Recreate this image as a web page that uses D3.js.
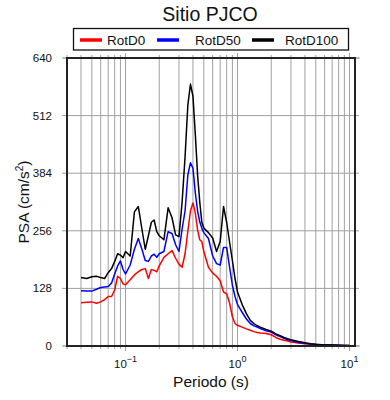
<!DOCTYPE html>
<html><head><meta charset="utf-8">
<script src="https://cdn.jsdelivr.net/npm/d3@7"></script>
<style>body{margin:0;background:#fff}svg{display:block}text{font-family:"Liberation Sans",Arial,Helvetica,sans-serif}</style>
</head><body><svg id="c" width="390" height="400"></svg>
<script>
const periods = [0.04,0.045,0.05,0.055,0.06,0.065,0.07,0.075,0.08,0.085,0.09,0.095,0.1,0.11,0.12,0.13,0.14,0.15,0.16,0.17,0.18,0.19,0.2,0.22,0.24,0.26,0.28,0.3,0.32,0.34,0.36,0.38,0.4,0.42,0.44,0.46,0.48,0.5,0.55,0.6,0.65,0.7,0.75,0.8,0.85,0.9,0.95,1.0,1.1,1.2,1.3,1.4,1.5,1.6,1.8,2.0,2.2,2.4,2.6,2.8,3.0,3.5,4.0,4.5,5,6,7,8,9,10];
const rotD100 = [152,150,154,155,152,150,163,172,188,205,202,196,210,200,298,310,260,215,245,275,280,254,245,236,307,285,247,243,320,420,535,582,555,470,380,320,275,262,252,240,210,232,310,275,230,190,150,120,92,72,57,50,45,42,37,33,27,23,19,16,14,10,7,5,4,2.5,2,1.5,1.2,1];
const rotD50 = [123,122,122,126,130,131,132,140,160,178,189,170,160,180,215,239,215,190,188,200,204,197,205,210,254,250,225,210,260,300,380,407,395,340,300,276,262,252,239,200,183,180,219,219,175,135,110,92,75,60,50,45,42,39,34,31,25,21,17,14,12,8,6,4.5,3.5,2.5,2,1.5,1.2,1];
const rotD0 = [96,97,98,95,98,103,110,110,125,155,150,138,136,147,158,165,170,172,150,170,168,165,178,197,205,212,195,182,175,205,255,300,318,295,258,236,232,210,175,162,155,145,120,116,95,65,50,46,42,38,35,32,30,29,28,25,19,15,13,11,9,6.5,5,4,3,2,1.5,1.2,1,0.8];
const yTicks = [0,128,256,384,512,640];
const xMajor = [0.1,1,10];
const seriesNames = ["RotD0","RotD50","RotD100"];
const seriesColors = ["#ff0000","#0000ff","#000000"];
const title = "Sitio PJCO";

const svg = d3.select("#c");
const L=67,R=355,T=58,B=346;
const x = d3.scaleLog().domain([0.03,11.2]).range([L,R]);
const y = d3.scaleLinear().domain([0,640]).range([B,T]);

const minors=[];
[0.01,0.1,1,10].forEach(d=>{for(let k=1;k<10;k++){const v=d*k; if(v>=0.03&&v<=11.2) minors.push(v);}});

svg.append("g").selectAll("line").data(minors).join("line")
  .attr("x1",d=>x(d)).attr("x2",d=>x(d)).attr("y1",T).attr("y2",B)
  .attr("stroke","#a0a0a0").attr("stroke-width",1);
svg.append("g").selectAll("line").data(yTicks.slice(1,-1)).join("line")
  .attr("x1",L).attr("x2",R).attr("y1",d=>y(d)).attr("y2",d=>y(d))
  .attr("stroke","#a0a0a0").attr("stroke-width",1);

const tk = svg.append("g").attr("stroke","#a0a0a0").attr("stroke-width",1);
minors.forEach(v=>{
  const maj = xMajor.includes(+v.toPrecision(3));
  const len = maj?5:3;
  tk.append("line").attr("x1",x(v)).attr("x2",x(v)).attr("y1",B).attr("y2",B+len);
  tk.append("line").attr("x1",x(v)).attr("x2",x(v)).attr("y1",T).attr("y2",T-len);
});
yTicks.forEach(v=>{
  tk.append("line").attr("x1",L-5).attr("x2",L).attr("y1",y(v)).attr("y2",y(v));
  tk.append("line").attr("x1",R).attr("x2",R+4).attr("y1",y(v)).attr("y2",y(v));
});
tk.append("line").attr("x1",L-4).attr("x2",R+5).attr("y1",B).attr("y2",B);
tk.append("line").attr("x1",L-4).attr("x2",R+5).attr("y1",T).attr("y2",T);

const line = d3.line().x((d,i)=>x(periods[i])).y(d=>y(d));
[rotD0,rotD50,rotD100].forEach((s,i)=>{
  svg.append("path").datum(s).attr("d",line).attr("fill","none")
    .attr("stroke",seriesColors[i]).attr("stroke-width",1.5).attr("stroke-linejoin","round");
});

svg.append("rect").attr("x",L).attr("y",T).attr("width",R-L).attr("height",B-T)
  .attr("fill","none").attr("stroke","#222").attr("stroke-width",2);

svg.append("g").selectAll("text").data(yTicks).join("text")
  .attr("x",L-15).attr("y",d=>y(d)+4).attr("text-anchor","end")
  .attr("font-size",11.5).attr("fill","#111").text(d=>d);

const xl = svg.append("g").selectAll("text").data(xMajor).join("text")
  .attr("x",d=>x(d)).attr("y",368).attr("text-anchor","middle").attr("font-size",11.5).attr("fill","#111");
xl.append("tspan").text("10");
xl.append("tspan").attr("dy",-6).attr("font-size",9).text(d=>{const e=Math.round(Math.log10(d)); return e<0?"\u2212"+(-e):String(e);});

svg.append("text").attr("x",(L+R)/2).attr("y",387).attr("text-anchor","middle")
  .attr("font-size",15.5).attr("fill","#111").text("Periodo (s)");
const yl = svg.append("text").attr("transform","translate(29,"+((T+B)/2)+") rotate(-90)")
  .attr("text-anchor","middle").attr("font-size",15.5).attr("fill","#111");
yl.append("tspan").text("PSA (cm/s");
yl.append("tspan").attr("dy",-6).attr("font-size",10).text("2");
yl.append("tspan").attr("dy",6).text(")");

svg.append("text").attr("x",210).attr("y",21).attr("text-anchor","middle")
  .attr("font-size",19.5).attr("fill","#111").text(title);

svg.append("rect").attr("x",73.5).attr("y",28.5).attr("width",275).attr("height",21.5)
  .attr("fill","#fff").attr("stroke","#111").attr("stroke-width",1.3);
const lx=[80,157,252], tx=[107,195,285];
seriesNames.forEach((n,i)=>{
  svg.append("line").attr("x1",lx[i]).attr("x2",lx[i]+22).attr("y1",40).attr("y2",40)
    .attr("stroke",seriesColors[i]).attr("stroke-width",3.5);
  svg.append("text").attr("x",tx[i]).attr("y",44.5).attr("font-size",13.5).attr("fill","#111").text(n);
});
</script></body></html>
